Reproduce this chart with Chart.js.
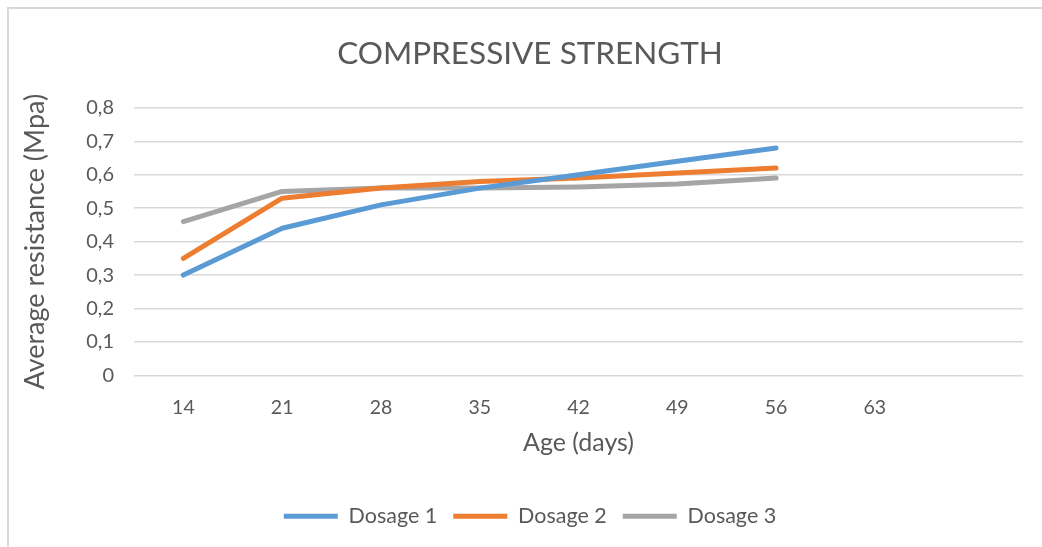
<!DOCTYPE html>
<html>
<head>
<meta charset="utf-8">
<script src="https://cdn.jsdelivr.net/npm/chart.js@4.4.1/dist/chart.umd.min.js"></script>
<style>
  html, body { margin: 0; padding: 0; background: #fff; overflow: hidden; }
  #wrap { position: relative; width: 1042px; height: 547px; }
  #frame {
    position: absolute; left: 7px; top: 7px;
    width: 1100px; height: 600px;
    border: 2px solid #d9d9d9; box-sizing: border-box;
  }
  canvas { position: absolute; left: 0; top: 0; }
</style>
</head>
<body>
<div id="wrap">
  <div id="frame"></div>
  <canvas id="myChart" width="1042" height="547"></canvas>
</div>
<script>
'use strict';

// age of the samples in days (last slot left empty, as on the sheet)
const ageLabels = ['14', '21', '28', '35', '42', '49', '56', '63', ''];

const dosage1 = [0.30, 0.44, 0.51, 0.56, 0.60, 0.64, 0.68];
const dosage2 = [0.35, 0.53, 0.56, 0.58, 0.59, 0.605, 0.62];
const dosage3 = [0.46, 0.55, 0.56, 0.56, 0.563, 0.572, 0.59];

const yTickLabels = ['0', '0,1', '0,2', '0,3', '0,4', '0,5', '0,6', '0,7', '0,8'];

const textColor = '#595959';
const fontFamily = 'Lato, "Open Sans", sans-serif';

function lineSet(label, data, color) {
  return {
    label: label,
    data: data,
    borderColor: color,
    backgroundColor: color,
    borderWidth: 5,
    borderCapStyle: 'round',
    borderJoinStyle: 'round',
    pointRadius: 0,
    pointHoverRadius: 0,
    tension: 0,
    fill: false
  };
}

const ctx = document.getElementById('myChart').getContext('2d');

const myChart = new Chart(ctx, {
  type: 'line',
  data: {
    labels: ageLabels,
    datasets: [
      lineSet('Dosage 1', dosage1, '#5b9bd5'),
      lineSet('Dosage 2', dosage2, '#ed7d31'),
      lineSet('Dosage 3', dosage3, '#a5a5a5')
    ]
  },
  options: {
    responsive: false,
    animation: false,
    layout: {
      // wider left side keeps the title centred on the whole frame
      padding: { left: 37, right: 19, top: 0, bottom: 10 }
    },
    plugins: {
      title: {
        display: true,
        text: 'COMPRESSIVE STRENGTH',
        color: textColor,
        font: { family: fontFamily, size: 31.5, weight: 'normal' },
        padding: { top: 35, bottom: 35 }
      },
      legend: {
        position: 'bottom',
        labels: {
          color: textColor,
          font: { family: fontFamily, size: 21.5 },
          usePointStyle: true,
          pointStyle: 'line',
          pointStyleWidth: 54,
          boxHeight: 20,
          padding: 16
        }
      },
      tooltip: { enabled: false }
    },
    scales: {
      x: {
        offset: true,
        grid: { display: false, drawTicks: false },
        border: { display: false },
        ticks: {
          color: textColor,
          font: { family: fontFamily, size: 19.5 },
          padding: 21,
          maxRotation: 0,
          autoSkip: false
        },
        title: {
          display: true,
          text: 'Age (days)',
          color: textColor,
          font: { family: fontFamily, size: 25 },
          padding: { top: 4, bottom: 32 }
        },
        afterFit: function (scale) { scale.height = 114; }
      },
      y: {
        min: 0,
        max: 0.8,
        grid: { color: '#d9d9d9', lineWidth: 1.5, drawTicks: false },
        border: { display: false },
        ticks: {
          stepSize: 0.1,
          color: textColor,
          font: { family: fontFamily, size: 20 },
          padding: 20,
          callback: function (value, index) { return yTickLabels[index]; }
        },
        title: {
          display: true,
          text: 'Average resistance (Mpa)',
          color: textColor,
          font: { family: fontFamily, size: 27 },
          padding: { top: -18, bottom: 4 }
        },
        afterFit: function (scale) { scale.width = 97; }
      }
    }
  }
});
</script>
</body>
</html>
